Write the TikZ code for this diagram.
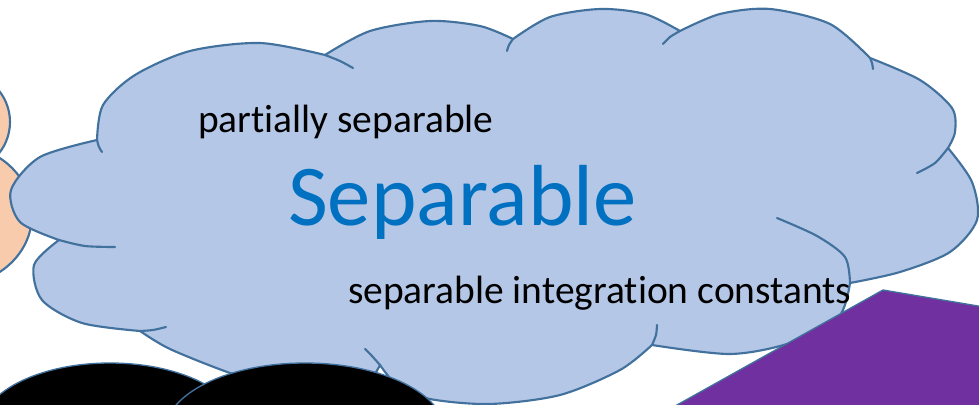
\documentclass[tikz,border=0pt]{standalone}
\usepackage{fontspec}
\setmainfont{Carlito}[Ligatures={NoCommon,NoContextual}]
\definecolor{cloudblue}{HTML}{B4C7E7}
\definecolor{edgeblue}{HTML}{41719C}
\definecolor{peach}{HTML}{F8CBAD}
\definecolor{mypurple}{HTML}{7030A0}
\definecolor{titleblue}{HTML}{0070C0}
\begin{document}
\begin{tikzpicture}[x=0.75pt, y=-0.75pt, line width=1.6pt,
    tail/.style={draw=edgeblue, line cap=round},
    label/.style={anchor=base west, inner sep=0pt, font=\fontsize{29.6}{35}\selectfont}]
      \useasboundingbox (0,0) rectangle (979,404);
      \clip (0,0) rectangle (979,404);

      % peach blobs peeking in at the left edge
      \filldraw[fill=peach, draw=edgeblue] (-45,215) ellipse [x radius=77, y radius=70];
      \filldraw[fill=peach, draw=edgeblue] (-40,122) circle (50);

      % cloud: one smooth arc per lobe, sharp corners between lobes
      \filldraw[fill=cloudblue, draw=edgeblue, line join=round]
        plot[smooth] coordinates {(97,140) (103,105) (135,75) (190,51) (260,43) (325,55)}
        -- plot[smooth] coordinates {(325,55) (370,31) (430,21) (480,26) (513,39)}
        -- plot[smooth] coordinates {(513,39) (550,17) (600,9) (645,14) (680,31)}
        -- plot[smooth] coordinates {(680,31) (720,14) (770,9) (830,24) (870,58)}
        -- plot[smooth] coordinates {(870,58) (920,80) (952,108) (955,132) (948,148)}
        -- plot[smooth] coordinates {(948,148) (972,182) (977,220) (950,252) (900,272) (850,283)}
        -- plot[smooth] coordinates {(850,283) (838,318) (790,343) (730,354) (652,345)}
        -- plot[smooth] coordinates {(652,345) (620,370) (560,395) (490,404) (430,399) (398,386) (380,365)}
        -- plot[smooth] coordinates {(380,365) (360,388) (300,395) (230,373) (170,349) (140,331)}
        -- plot[smooth] coordinates {(140,331) (82,323) (42,300) (34,265) (59,240)}
        -- plot[smooth] coordinates {(59,240) (20,222) (11,190) (40,157) (97,140)}
        -- cycle;

      % short inner arcs at the lobe joints
      \draw[tail] plot[smooth] coordinates {(97,140) (99,147) (102,152)};
      \draw[tail] plot[smooth] coordinates {(325,55) (340,61) (353,68)};
      \draw[tail] plot[smooth] coordinates {(513,39) (509,45) (507,51)};
      \draw[tail] plot[smooth] coordinates {(680,31) (670,37) (663,44)};
      \draw[tail] plot[smooth] coordinates {(870,58) (872,63) (873,69)};
      \draw[tail] plot[smooth] coordinates {(948,148) (935,163) (917,173)};
      \draw[tail] plot[smooth] coordinates {(850,283) (845,257) (817,236) (777,218)};
      \draw[tail] plot[smooth] coordinates {(652,345) (656,335) (657,325)};
      \draw[tail] plot[smooth] coordinates {(380,365) (372,356) (365,349)};
      \draw[tail] plot[smooth] coordinates {(140,331) (153,330) (166,327)};
      \draw[tail] plot[smooth] coordinates {(59,240) (85,246) (115,247)};

      % black shapes at the bottom
      \filldraw[fill=black, draw=edgeblue, line width=1pt] (110,430) ellipse [x radius=130, y radius=67];
      \filldraw[fill=black, draw=edgeblue, line width=1pt] (305,432) ellipse [x radius=140, y radius=69];

      % purple shape at the bottom right
      \filldraw[fill=mypurple, draw=edgeblue, line width=1pt]
        (668,410) -- (883,290) -- (990,308) -- (990,410) -- cycle;

      % texts
      \node[label] (partial) at (197,132) {partially separable};
      \node[label, text=titleblue, font=\fontsize{65}{78}\selectfont] (title) at (287,225) {Separable};
      \node[label] (constants) at (347,303) {separable integration constants};

    \end{tikzpicture}
\end{document}
